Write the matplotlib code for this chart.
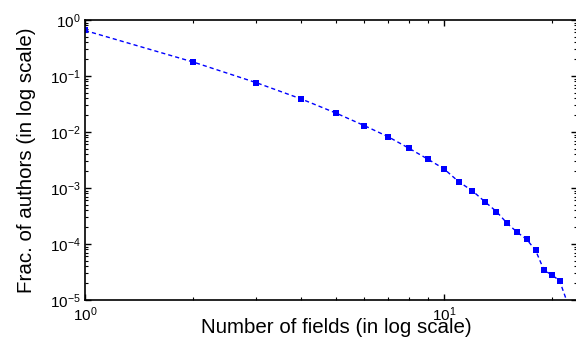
import matplotlib
matplotlib.use("Agg")
import matplotlib.pyplot as plt
from matplotlib.ticker import LogLocator, NullFormatter

plt.rcParams['font.family'] = ['Liberation Sans', 'DejaVu Sans']
plt.rcParams['mathtext.fontset'] = 'custom'
plt.rcParams['mathtext.rm'] = 'Liberation Sans'
plt.rcParams['mathtext.it'] = 'Liberation Sans'
plt.rcParams['axes.unicode_minus'] = False

num_fields = [1, 2, 3, 4, 5, 6, 7, 8, 9, 10, 11, 12, 13, 14, 15, 16, 17, 18, 19, 20, 21, 22]
frac_authors = [0.65, 0.178, 0.076, 0.039, 0.0218, 0.0130, 0.0082, 0.0051, 0.0033, 0.0022,
                0.00129, 0.00089, 0.00057, 0.00038, 0.000234, 0.000162, 0.000121, 7.7e-5,
                3.4e-5, 2.8e-5, 2.2e-5, 9.5e-6]
n_marked = 21

fig = plt.figure(figsize=(5.76, 3.40), dpi=100)
ax = fig.add_axes([85/576, 1 - 300/340, 1 - 85/576 + 0.002, 280/340])

ax.plot(num_fields, frac_authors, linestyle=(0, (3, 2.2)), color='#0000ff', linewidth=1.0)
ax.plot(num_fields[:n_marked], frac_authors[:n_marked], linestyle='none', marker='s',
        markersize=5, color='#0000ff', markeredgewidth=0)

ax.set_xscale('log')
ax.set_yscale('log')
ax.set_xlim(1, 23.5)
ax.set_ylim(1e-5, 1)

ax.xaxis.set_major_locator(LogLocator(base=10, numticks=10))
ax.xaxis.set_minor_locator(LogLocator(base=10, subs=range(2, 10), numticks=20))
ax.yaxis.set_major_locator(LogLocator(base=10, numticks=10))
ax.yaxis.set_minor_locator(LogLocator(base=10, subs=range(2, 10), numticks=20))
ax.xaxis.set_minor_formatter(NullFormatter())
ax.yaxis.set_minor_formatter(NullFormatter())

ax.tick_params(which='both', direction='in', top=True, right=True, labelsize=11, colors='black')
ax.tick_params(which='major', length=4, width=1)
ax.tick_params(which='minor', length=2, width=0.8)
ax.tick_params(axis='x', pad=4)
ax.tick_params(axis='y', pad=3)
for s in ax.spines.values():
    s.set_linewidth(1.2)

ax.set_xlabel('Number of fields (in log scale)', fontsize=14.8, labelpad=-4)
ax.xaxis.set_label_coords(0.51, -0.065, transform=ax.transAxes)
ax.xaxis.label.set_va('top')
ax.set_ylabel('Frac. of authors (in log scale)', fontsize=14.8, labelpad=10)

fig.savefig('out.png', dpi=100)
